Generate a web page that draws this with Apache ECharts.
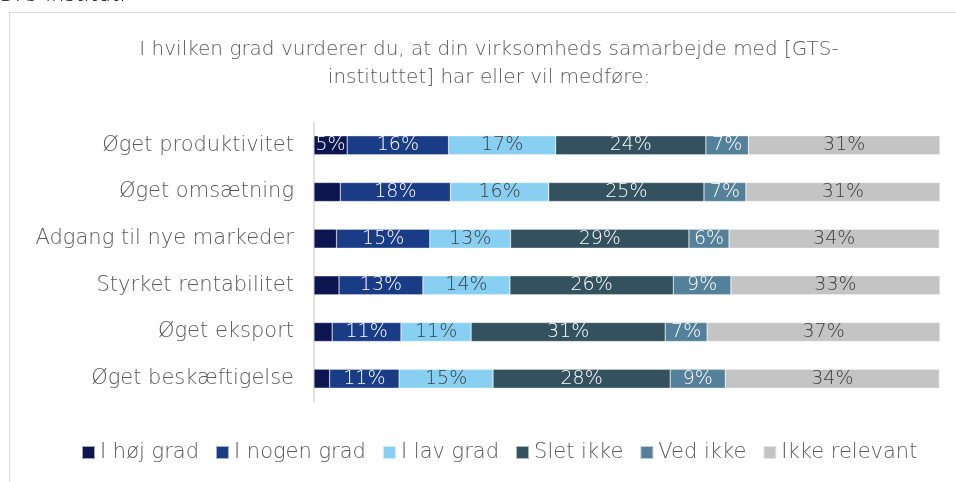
<!DOCTYPE html>
<html>
<head>
<meta charset="utf-8">
<script src="https://cdn.jsdelivr.net/npm/echarts@6/dist/echarts.min.js"></script>
<style>
  html, body { margin: 0; padding: 0; background: #fff; }
  #chart { width: 956px; height: 482px; }
</style>
</head>
<body>
<div id="chart"></div>
<script>
var categories = ['Øget produktivitet', 'Øget omsætning', 'Adgang til nye markeder', 'Styrket rentabilitet', 'Øget eksport', 'Øget beskæftigelse'];
var seriesNames = ['I høj grad', 'I nogen grad', 'I lav grad', 'Slet ikke', 'Ved ikke', 'Ikke relevant'];
var hoej = [5.3, 4.2, 3.6, 4.0, 2.9, 2.5];
var nogen = [16.2, 17.6, 14.9, 13.4, 11.0, 11.1];
var lav = [17.1, 15.7, 12.9, 13.9, 11.2, 15.0];
var slet = [24.0, 24.8, 28.5, 26.1, 31.0, 28.3];
var vedIkke = [6.8, 6.7, 6.4, 9.2, 6.7, 8.8];
var ikkeRelevant = [30.6, 31.0, 33.6, 33.4, 37.2, 34.2];

var colors = ['#0c1550', '#1a3c86', '#88cff2', '#33515e', '#55809a', '#c4c4c4'];
var labelColors = ['#ffffff', '#ffffff', '#404040', '#ffffff', '#ffffff', '#404040'];
var values = [hoej, nogen, lav, slet, vedIkke, ikkeRelevant];
var font = 'DejaVu Sans';

var myChart = echarts.init(document.getElementById('chart'));

var series = seriesNames.map(function (name, i) {
    return {
        name: name,
        type: 'bar',
        stack: 'total',
        barWidth: 19,
        itemStyle: { color: colors[i], borderColor: 'rgba(255,255,255,0.6)', borderWidth: 0.5 },
        label: {
            show: true,
            color: labelColors[i],
            fontFamily: font,
            fontWeight: 200,
            fontSize: 19,
            formatter: function (p) {
                return p.value >= 5 ? Math.round(p.value) + '%' : '';
            }
        },
        data: values[i]
    };
});

var option = {
    animation: false,
    graphic: [
        {
            type: 'rect',
            shape: { x: 9.5, y: 12.5, width: 960, height: 480 },
            style: { fill: 'none', stroke: '#d9d9d9', lineWidth: 1 },
            silent: true
        },
        {
            type: 'text',
            left: -4,
            top: -15,
            style: { text: 'GTS-institut.', fill: '#000', font: '200 21px "DejaVu Sans"' },
            silent: true
        },
        {
            type: 'text',
            x: 489,
            y: 36,
            style: {
                text: 'I hvilken grad vurderer du, at din virksomheds samarbejde med [GTS-\ninstituttet] har eller vil medføre:',
                fill: '#595959',
                font: '200 20px "DejaVu Sans"',
                lineHeight: 28,
                align: 'center'
            },
            silent: true
        }
    ],
    legend: {
        bottom: 14,
        left: 76,
        icon: 'rect',
        itemWidth: 13,
        itemHeight: 13,
        itemGap: 16,
        textStyle: { color: '#595959', fontFamily: font, fontWeight: 200, fontSize: 21 },
        data: seriesNames
    },
    grid: { left: 314, right: 16, top: 122, bottom: 80 },
    xAxis: {
        type: 'value',
        min: 0,
        max: 100,
        show: false
    },
    yAxis: {
        type: 'category',
        inverse: true,
        data: categories,
        axisLine: { show: true, lineStyle: { color: '#d9d9d9', width: 1.5 } },
        axisTick: { show: false },
        axisLabel: { color: '#595959', fontFamily: font, fontWeight: 200, fontSize: 21, margin: 20 }
    },
    series: series
};
option && myChart.setOption(option);
</script>
</body>
</html>
